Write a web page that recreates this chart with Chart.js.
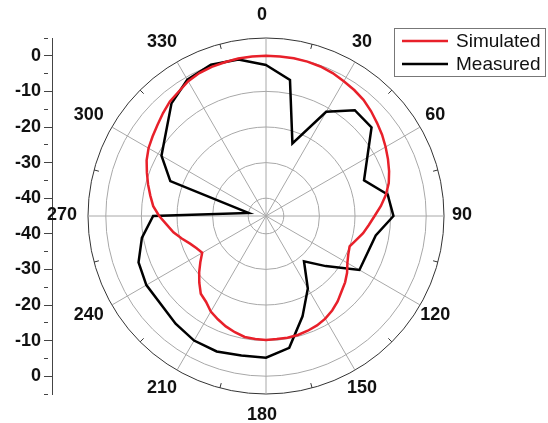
<!DOCTYPE html>
<html>
<head>
<meta charset="utf-8">
<script src="https://cdn.jsdelivr.net/npm/chart.js@4.4.1/dist/chart.umd.min.js"></script>
<style>
  body { margin: 0; background: #fff; }
  #wrap { width: 548px; height: 423px; }
</style>
</head>
<body>
<div id="wrap"><canvas id="polarChart" width="548" height="423"></canvas></div>
<script>
// angles (deg), 0 at top, clockwise, every 5 deg
const angles = [
  0, 5, 10, 15, 20, 25, 30, 35, 40, 45, 50, 55,
  60, 65, 70, 75, 80, 85, 90, 95, 100, 105, 110, 115,
  120, 125, 130, 135, 140, 145, 150, 155, 160, 165, 170, 175,
  180, 185, 190, 195, 200, 205, 210, 215, 220, 225, 230, 235,
  240, 245, 250, 255, 260, 265, 270, 275, 280, 285, 290, 295,
  300, 305, 310, 315, 320, 325, 330, 335, 340, 345, 350, 355
];

// normalized gain (dB)
const simulated = [
  0, 0, 0, -0.1, -0.3, -0.7, -1.3, -1.8, -2.4, -3.3, -4.3, -5.2,
  -6.2, -7.2, -8.2, -9.3, -10.8, -12.6, -14.5, -16.0, -17.3, -18.8, -20.0, -19.5,
  -18.6, -17.2, -16.0, -15.0, -13.7, -12.6, -11.7, -11.1, -10.7, -10.4, -10.3, -10.3,
  -10.2, -10.3, -10.5, -11.2, -12.0, -13.0, -14.0, -15.6, -16.5, -18.5, -20.5, -22.5,
  -24.3, -23.5, -22.3, -20.5, -18.6, -17.0, -15.0, -13.2, -12.0, -10.7, -9.4, -8.0,
  -6.9, -6.1, -5.2, -4.1, -3.0, -2.3, -1.3, -0.7, -0.4, -0.3, -0.1, 0
];

const measured = [
  -2.6, null, -6.2, null, -23.3, null, -11.2, null, -6.2, null, -6.3, null,
  null, null, -15.7, null, -10.3, null, -9.2, null, -13.7, null, null, null,
  -14.7, null, -23.1, null, -28.4, null, -21.5, null, -15.0, null, -7.4, null,
  -5.2, null, -5.2, null, -4.5, null, -4.6, null, -5.5, null, null, null,
  -6.2, null, -6.9, null, -9.6, null, -13.3, null, -40, null, -16.4, null,
  -11.1, null, null, null, -3.7, null, -0.8, null, 0.2, null, -0.4, null
];

// radial rings and left axis labels
const ringValues = [-40, -30, -20, -10, 0, 5];
const dbTicks = [-40, -30, -20, -10, 0];
// left axis tick positions, distance from the pole in dB (minus = lower half)
const axisTicks = [-50, -45, -40, -35, -30, -25, -20, -15, -10, -5, 5, 10, 15, 20, 25, 30, 35, 40, 45, 50];
const rMin = -45;
const rMax = 5;

const labelFont = 'bold 18px "Liberation Sans", Arial, sans-serif';

// angle labels, outer ring ticks and legend box
const polarDecor = {
    id: 'polarDecor',
    afterDraw(chart) {
        const ctx = chart.ctx;
        const r = chart.scales.r;
        ctx.save();

        ctx.strokeStyle = '#333';
        ctx.lineWidth = 1;
        angles.forEach(function(a, i) {
            if (a % 30 === 15) {
                const p1 = r.getPointPosition(i, r.drawingArea);
                const p2 = r.getPointPosition(i, r.drawingArea - 5);
                ctx.beginPath();
                ctx.moveTo(p1.x, p1.y);
                ctx.lineTo(p2.x, p2.y);
                ctx.stroke();
            }
        });

        ctx.font = labelFont;
        ctx.fillStyle = '#111';
        ctx.textAlign = 'center';
        ctx.textBaseline = 'middle';
        angles.forEach(function(a, i) {
            if (a % 30 === 0) {
                const p = r.getPointPosition(i, r.drawingArea + 22);
                ctx.fillText(String(a), p.x - 4, p.y - 1);
            }
        });

        // legend
        ctx.fillStyle = '#fff';
        ctx.fillRect(394.5, 28.5, 151, 48);
        ctx.strokeStyle = '#777';
        ctx.lineWidth = 1;
        ctx.strokeRect(394.5, 28.5, 151, 48);
        ctx.font = '19px "Liberation Sans", Arial, sans-serif';
        ctx.textAlign = 'left';
        chart.data.datasets.forEach(function(ds, i) {
            const y = 41 + i * 23;
            ctx.strokeStyle = ds.borderColor;
            ctx.lineWidth = 2.5;
            ctx.beginPath();
            ctx.moveTo(402, y);
            ctx.lineTo(448, y);
            ctx.stroke();
            ctx.fillStyle = '#111';
            ctx.fillText(ds.label, 456, y + 1);
        });
        ctx.restore();
    }
};

const ctx = document.getElementById('polarChart').getContext('2d');
new Chart(ctx, {
    type: 'radar',
    data: {
        labels: angles,
        datasets: [{
            label: 'Simulated',
            data: simulated,
            borderColor: '#e8202a',
            borderWidth: 2.5,
            pointRadius: 0,
            fill: false,
            tension: 0
        },
        {
            label: 'Measured',
            data: measured,
            borderColor: '#000000',
            borderWidth: 2.5,
            pointRadius: 0,
            fill: false,
            tension: 0,
            spanGaps: true
        }]
    },
    options: {
        responsive: false,
        animation: false,
        layout: {
            padding: { left: 0, top: 38, right: 68, bottom: 29 }
        },
        plugins: {
            legend: { display: false },
            tooltip: { enabled: false }
        },
        events: [],
        scales: {
            r: {
                min: rMin,
                max: rMax,
                startAngle: 0,
                afterBuildTicks: function(scale) {
                    scale.ticks = ringValues.map(v => ({ value: v }));
                },
                ticks: { display: false },
                pointLabels: { display: false },
                grid: {
                    circular: true,
                    color: c => (c.tick && c.tick.value === rMax) ? '#333' : '#a8a8a8',
                    lineWidth: 1
                },
                angleLines: {
                    display: true,
                    color: '#a8a8a8',
                    lineWidth: c => (angles[c.index] % 30 === 0) ? 1 : 0
                }
            },
            y: {
                type: 'linear',
                position: 'left',
                min: -50,
                max: 50,
                afterBuildTicks: function(scale) {
                    scale.ticks = axisTicks.map(v => ({ value: v }));
                },
                afterFit: function(scale) {
                    scale.width = 52;
                },
                ticks: {
                    autoSkip: false,
                    padding: 3,
                    color: '#111',
                    font: { family: '"Liberation Sans", Arial, sans-serif', size: 18, weight: 'bold' },
                    callback: function(value) {
                        const db = Math.abs(Math.round(value)) - 45;
                        return dbTicks.includes(db) ? String(db) : '';
                    }
                },
                grid: {
                    drawOnChartArea: false,
                    drawTicks: true,
                    tickLength: 8,
                    tickColor: '#444',
                    tickWidth: 1,
                    tickBorderDash: function(c) {
                        const db = Math.abs(Math.round(c.tick.value)) - 45;
                        return dbTicks.includes(db) ? [] : [4, 20];
                    }
                },
                border: { display: true, color: '#444', width: 1 }
            }
        }
    },
    plugins: [polarDecor]
});
</script>
</body>
</html>
